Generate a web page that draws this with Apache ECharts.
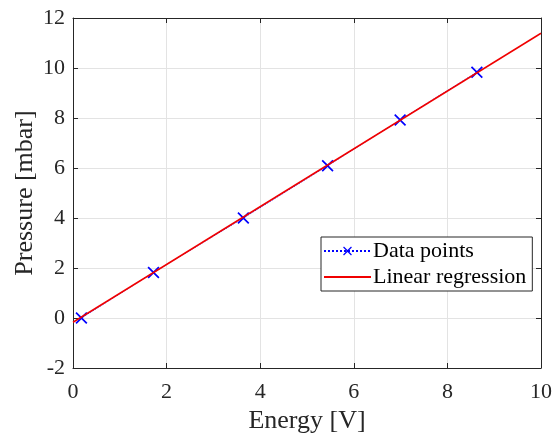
<!DOCTYPE html>
<html>
<head>
<meta charset="utf-8">
<script src="https://cdn.jsdelivr.net/npm/echarts@6/dist/echarts.min.js"></script>
<style>
html,body{margin:0;padding:0;background:#fff;}
#chart{width:555px;height:439px;}
</style>
</head>
<body>
<div id="chart"></div>
<script>
// Data
var energyPoints = [0.18, 1.72, 3.64, 5.44, 6.99, 8.63];
var pressurePoints = [0.00, 1.82, 4.00, 6.09, 7.92, 9.83];
var regressionX = [0, 10];
var regressionY = [-0.17, 11.39];
var xTicks = {min: 0, max: 10, interval: 2};
var yTicks = {min: -2, max: 12, interval: 2};
var seriesNames = ['Data points', 'Linear regression'];
var xName = 'Energy [V]';
var yName = 'Pressure [mbar]';

var font = 'Liberation Serif, Times New Roman, serif';
var axisColor = '#262626';
var gridColor = '#e3e3e3';
var xMark = 'path://M0,1L1,0L5,4L9,0L10,1L6,5L10,9L9,10L5,6L1,10L0,9L4,5Z';

function zip(a, b) { return a.map(function (v, i) { return [v, b[i]]; }); }

function axisBase(extra) {
  var o = {
    type: 'value',
    axisLine: {show: true, onZero: false, lineStyle: {color: axisColor, width: 1}},
    axisTick: {show: true, inside: true, length: 5, lineStyle: {color: axisColor}},
    splitLine: {show: false},
    axisLabel: {show: false}
  };
  for (var k in extra) o[k] = extra[k];
  return o;
}

var chart = echarts.init(document.getElementById('chart'), null, {renderer: 'canvas'});
chart.setOption({
  animation: false,
  backgroundColor: '#fff',
  grid: {left: 73, top: 18, right: 12, bottom: 69, containLabel: false},
  xAxis: [
    axisBase({
      position: 'bottom', min: xTicks.min, max: xTicks.max, interval: xTicks.interval,
      name: xName, nameLocation: 'middle', nameGap: 40, nameMoveOverlap: false,
      nameTextStyle: {fontFamily: font, fontSize: 26, color: axisColor},
      splitLine: {show: true, lineStyle: {color: gridColor, width: 1}},
      axisLabel: {show: true, fontFamily: font, fontSize: 22, color: axisColor, margin: 13}
    }),
    axisBase({position: 'top', min: xTicks.min, max: xTicks.max, interval: xTicks.interval})
  ],
  yAxis: [
    axisBase({
      position: 'left', min: yTicks.min, max: yTicks.max, interval: yTicks.interval,
      name: yName, nameLocation: 'middle', nameGap: 35, nameMoveOverlap: false,
      nameTextStyle: {fontFamily: font, fontSize: 26, color: axisColor},
      splitLine: {show: true, lineStyle: {color: gridColor, width: 1}},
      axisLabel: {show: true, fontFamily: font, fontSize: 22, color: axisColor, margin: 8}
    }),
    axisBase({position: 'right', min: yTicks.min, max: yTicks.max, interval: yTicks.interval})
  ],
  legend: {
    data: [
      {name: seriesNames[0]},
      {name: seriesNames[1], itemStyle: {opacity: 0}}
    ],
    orient: 'vertical',
    left: 321, top: 237,
    backgroundColor: '#fff',
    borderColor: axisColor,
    borderWidth: 1,
    borderRadius: 0,
    padding: [2, 6, 2, 2],
    itemGap: 2,
    itemWidth: 47,
    itemHeight: 11,
    textStyle: {fontFamily: font, fontSize: 22, color: '#000', lineHeight: 24, padding: [0, 0, 0, -3]}
  },
  series: [
    {
      name: seriesNames[0],
      type: 'line',
      data: zip(energyPoints, pressurePoints),
      symbol: xMark,
      symbolSize: 12,
      itemStyle: {color: '#0000ff'},
      lineStyle: {color: '#0000ff', type: 'dotted', width: 1},
      z: 2
    },
    {
      name: seriesNames[1],
      type: 'line',
      data: zip(regressionX, regressionY),
      symbol: 'none',
      itemStyle: {color: '#f00000'},
      lineStyle: {color: '#f00000', width: 1.5},
      z: 3
    }
  ]
});
</script>
</body>
</html>
